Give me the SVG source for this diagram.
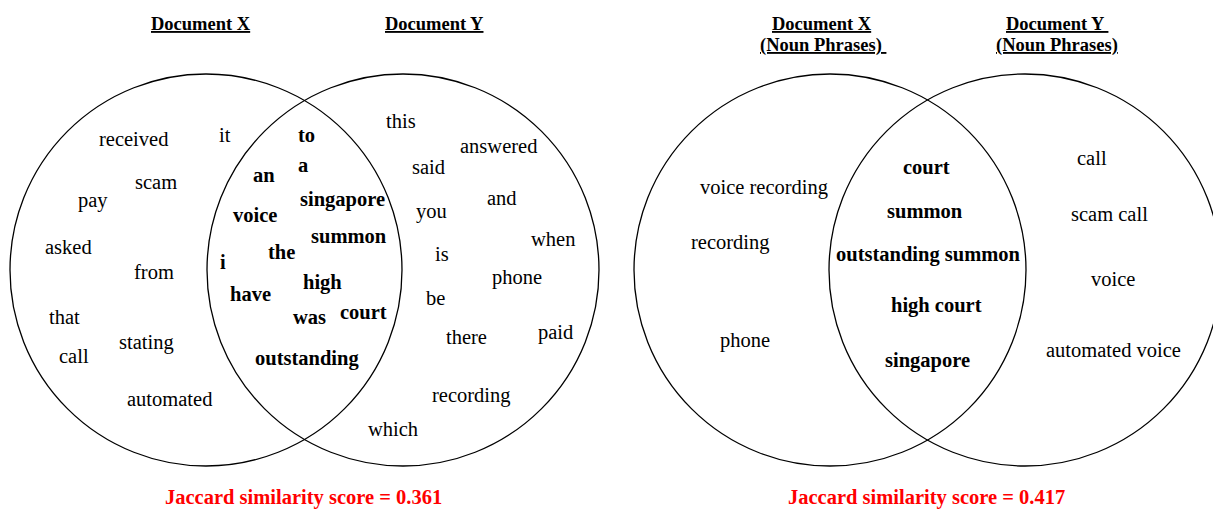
<svg xmlns="http://www.w3.org/2000/svg" width="1213" height="510" viewBox="0 0 1213 510">
  <style>
    .set { fill: none; stroke: #000; stroke-width: 1.3; }
    .w { font-family: "Liberation Serif", "Times New Roman", serif; font-size: 20.5px; fill: #000; }
    .b { font-weight: bold; }
    .hd { font-family: "Liberation Serif", "Times New Roman", serif; font-size: 18.5px; font-weight: bold; fill: #000; text-decoration: underline; }
    .score { font-family: "Liberation Serif", "Times New Roman", serif; font-size: 20.5px; font-weight: bold; fill: #ff0000; }
  </style>
  <rect width="1213" height="510" fill="#fff"/>

  <!-- Word-level Venn diagram -->
  <g id="words-venn">
    <g id="words-x">
      <circle class="set" cx="206" cy="270" r="196"/>
      <text class="hd" x="151" y="30">Document X</text>
      <text class="w" x="99" y="146">received</text>
      <text class="w" x="219" y="142">it</text>
      <text class="w" x="135" y="189">scam</text>
      <text class="w" x="78" y="207">pay</text>
      <text class="w" x="45" y="254">asked</text>
      <text class="w" x="134" y="279">from</text>
      <text class="w" x="49" y="324">that</text>
      <text class="w" x="119" y="349">stating</text>
      <text class="w" x="59" y="363">call</text>
      <text class="w" x="127" y="406">automated</text>
    </g>
    <g id="words-y">
      <circle class="set" cx="403" cy="270" r="196"/>
      <text class="hd" x="385" y="30">Document Y</text>
      <text class="w" x="386" y="128">this</text>
      <text class="w" x="460" y="153">answered</text>
      <text class="w" x="412" y="174">said</text>
      <text class="w" x="487" y="205">and</text>
      <text class="w" x="416" y="218">you</text>
      <text class="w" x="531" y="246">when</text>
      <text class="w" x="435" y="261">is</text>
      <text class="w" x="492" y="284">phone</text>
      <text class="w" x="426" y="305">be</text>
      <text class="w" x="446" y="344">there</text>
      <text class="w" x="538" y="339">paid</text>
      <text class="w" x="432" y="402">recording</text>
      <text class="w" x="368" y="436">which</text>
    </g>
    <g id="words-shared">
      <text class="w b" x="298" y="142">to</text>
      <text class="w b" x="298" y="172">a</text>
      <text class="w b" x="253" y="182">an</text>
      <text class="w b" x="300" y="206">singapore</text>
      <text class="w b" x="233" y="222">voice</text>
      <text class="w b" x="311" y="243">summon</text>
      <text class="w b" x="268" y="259">the</text>
      <text class="w b" x="220" y="269">i</text>
      <text class="w b" x="303" y="289">high</text>
      <text class="w b" x="230" y="301">have</text>
      <text class="w b" x="293" y="324">was</text>
      <text class="w b" x="340" y="319">court</text>
      <text class="w b" x="255" y="365">outstanding</text>
    </g>
    <text id="words-score" class="score" x="165" y="504">Jaccard similarity score = 0.361</text>
  </g>

  <!-- Noun-phrase Venn diagram -->
  <g id="phrases-venn">
    <g id="phrases-x">
      <circle class="set" cx="830" cy="270" r="196"/>
      <text class="hd" x="772" y="30">Document X</text>
      <text class="hd" x="760" y="51" xml:space="preserve">(Noun Phrases) </text>
      <text class="w" x="700" y="194">voice recording</text>
      <text class="w" x="691" y="249">recording</text>
      <text class="w" x="720" y="347">phone</text>
    </g>
    <g id="phrases-y">
      <circle class="set" cx="1025" cy="270" r="196"/>
      <text class="hd" x="1006" y="30" xml:space="preserve">Document Y </text>
      <text class="hd" x="996" y="51">(Noun Phrases)</text>
      <text class="w" x="1077" y="165">call</text>
      <text class="w" x="1071" y="221">scam call</text>
      <text class="w" x="1091" y="286">voice</text>
      <text class="w" x="1046" y="357">automated voice</text>
    </g>
    <g id="phrases-shared">
      <text class="w b" x="903" y="174">court</text>
      <text class="w b" x="887" y="218">summon</text>
      <text class="w b" x="836" y="261">outstanding summon</text>
      <text class="w b" x="891" y="312">high court</text>
      <text class="w b" x="885" y="367">singapore</text>
    </g>
    <text id="phrases-score" class="score" x="788" y="504">Jaccard similarity score = 0.417</text>
  </g>
</svg>
